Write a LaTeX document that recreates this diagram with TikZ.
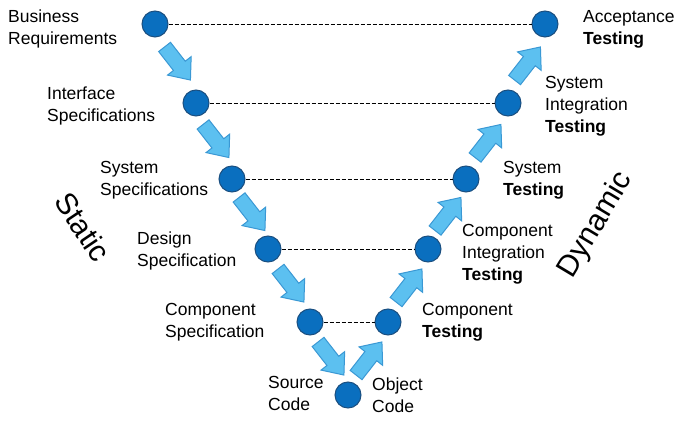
\documentclass[tikz,border=0pt]{standalone}
\usepackage{fontspec}
\setmainfont{Liberation Sans}
\usetikzlibrary{calc}
\definecolor{dotfill}{HTML}{0A6FBF}
\definecolor{dotline}{HTML}{1B4F80}
\definecolor{arrfill}{HTML}{5CC0F0}
\definecolor{arrline}{HTML}{3A98D4}
\tikzset{
  stage/.style={circle, fill=dotfill, draw=dotline, line width=1pt, minimum size=26pt, inner sep=0pt},
  label/.style={anchor=west, align=left, inner sep=0pt, font=\fontsize{17.5}{22}\selectfont},
  side/.style={inner sep=0pt, font=\fontsize{30}{34}\selectfont},
  link/.style={dashed, dash pattern=on 4pt off 2pt, line width=0.8pt, black},
  pics/blockarrow/.style={code={
    \draw[fill=arrfill, draw=arrline, line width=1pt, line join=miter]
      (-21,-7.5) -- (3,-7.5) -- (3,-15) -- (21,0) -- (3,15) -- (3,7.5) -- (-21,7.5) -- cycle;
  }}
}
\begin{document}
\begin{tikzpicture}[x=1pt, y=1pt]
  \useasboundingbox (0,0) rectangle (690,-427);
  % verification side (left branch)
  \node[stage] (l1) at (155,-24) {};
  \node[stage] (l2) at (196,-103) {};
  \node[stage] (l3) at (232,-179) {};
  \node[stage] (l4) at (268,-249) {};
  \node[stage] (l5) at (310,-322) {};
  \node[stage] (bt) at (348,-395) {};
  % validation side (right branch)
  \node[stage] (r1) at (545,-24) {};
  \node[stage] (r2) at (508,-103) {};
  \node[stage] (r3) at (466,-179) {};
  \node[stage] (r4) at (428,-249) {};
  \node[stage] (r5) at (388,-322) {};
  % dashed links between matching levels
  \draw[link] (l1) -- (r1);
  \draw[link] (l2) -- (r2);
  \draw[link] (l3) -- (r3);
  \draw[link] (l4) -- (r4);
  \draw[link] (l5) -- (r5);
  % block arrows going down the left branch
  \foreach \a/\b in {l1/l2, l2/l3, l3/l4, l4/l5, l5/bt}
    \pic[rotate=-52] at ($(\a)!0.5!(\b)+(2,0)$) {blockarrow};
  % block arrows going up the right branch
  \foreach \a/\b in {bt/r5, r5/r4, r4/r3, r3/r2, r2/r1}
    \pic[rotate=52] at ($(\a)!0.5!(\b)+(1,0)$) {blockarrow};
  % stage labels
  \node[label] (tbr) at (8,-29) {Business\\Requirements};
  \node[label] (tis) at (47,-106) {Interface\\Specifications};
  \node[label] (tss) at (100,-180) {System\\Specifications};
  \node[label] (tds) at (137,-251) {Design\\Specification};
  \node[label] (tcs) at (165,-322) {Component\\Specification};
  \node[label] (tsc) at (268,-393) {Source\\Code};
  \node[label] (tat) at (583,-29) {Acceptance\\\textbf{Testing}};
  \node[label] (tsi) at (545,-106) {System\\Integration\\\textbf{Testing}};
  \node[label] (tst) at (503,-180) {System\\\textbf{Testing}};
  \node[label] (tci) at (462,-254) {Component\\Integration\\\textbf{Testing}};
  \node[label] (tct) at (422,-322) {Component\\\textbf{Testing}};
  \node[label] (toc) at (372,-395) {Object\\Code};
  % phase captions
  \node[side, rotate=-56] (static) at (83,-227) {Static};
  \node[side, rotate=59] (dynamic) at (596,-225) {Dynamic};
\end{tikzpicture}
\end{document}
